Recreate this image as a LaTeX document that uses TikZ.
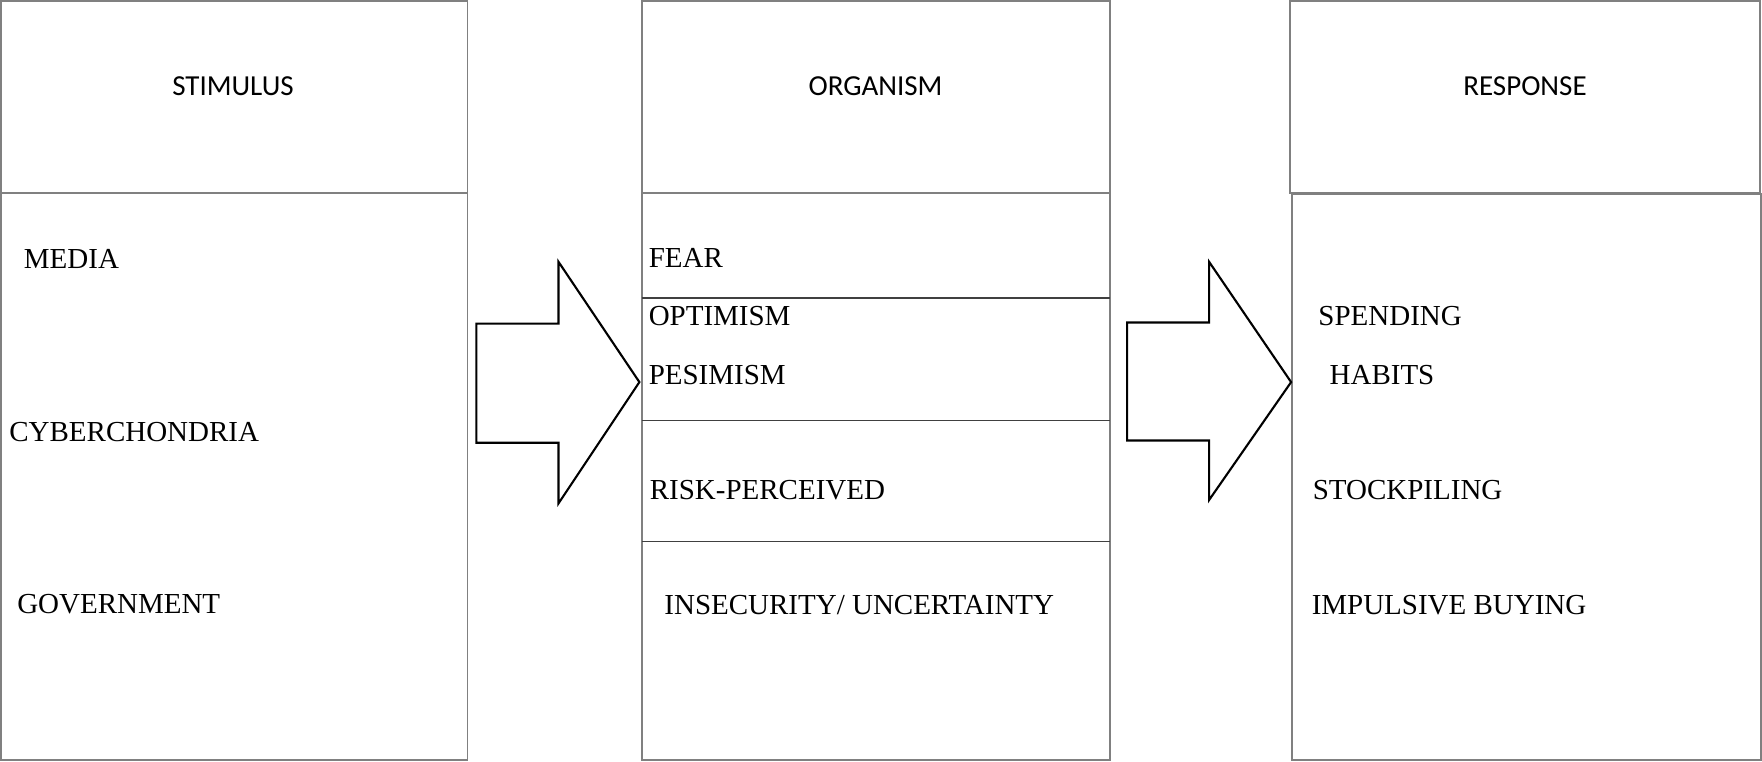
\documentclass[tikz,border=0pt]{standalone}
\usepackage{fontspec}
\setmainfont{Liberation Serif}
\newfontfamily\headfont{Carlito}
\usetikzlibrary{positioning}
\definecolor{framegray}{HTML}{808080}
\definecolor{rulegray}{HTML}{404040}
\tikzset{
    sorframe/.style={draw=framegray, line width=1.1pt},
    sorrule/.style={draw=rulegray, line width=0.8pt},
    sorhead/.style={inner sep=0pt, font=\headfont\fontsize{16.5}{20}\selectfont},
    soritem/.style={anchor=base west, inner sep=0pt, font=\fontsize{16.5}{20}\selectfont},
    sorarrow/.style={draw=black, line width=1.2pt, fill=white, line join=miter}
}

\begin{document}
\begin{tikzpicture}[x=0.02cm, y=-0.02cm]
    \useasboundingbox (0,0) rectangle (1762,761);

    % column frames
    \draw[sorframe] (1,1) rectangle (467.5,760);
    \draw[sorframe] (1,193.3) -- (467.5,193.3);
    \draw[sorframe] (641.6,1) rectangle (1110.2,760);
    \draw[sorframe] (641.6,193.3) -- (1110.2,193.3);
    \draw[sorframe] (1290,1) rectangle (1759.7,193.3);
    \draw[sorframe] (1292.3,194.4) rectangle (1761,760);

    % organism rows
    \draw[sorrule] (641.6,297.8) -- (1110.2,297.8);
    \draw[sorrule] (641.6,420.3) -- (1110.2,420.3);
    \draw[sorrule] (641.6,541.6) -- (1110.2,541.6);

    % headers
    \node[sorhead] (stim) at (233,86.5) {STIMULUS};
    \node[sorhead] (orgm) at (875.5,86.5) {ORGANISM};
    \node[sorhead] (resp) at (1525,86.5) {RESPONSE};

    % stimulus
    \node[soritem] (media) at (23.6,268) {MEDIA};
    \node[soritem] (cyber) at (9,441) {CYBERCHONDRIA};
    \node[soritem] (govt) at (16.9,613) {GOVERNMENT};

    % organism
    \node[soritem] (fear) at (648.4,267) {FEAR};
    \node[soritem] (optim) at (648.4,325.5) {OPTIMISM};
    \node[soritem] (pesim) at (648.4,384) {PESIMISM};
    \node[soritem] (risk) at (649.5,499.6) {RISK-PERCEIVED};
    \node[soritem] (insec) at (664.1,614.3) {INSECURITY/ UNCERTAINTY};

    % response
    \node[soritem] (spend) at (1318.1,325.5) {SPENDING};
    \node[soritem] (habit) at (1329.3,384) {HABITS};
    \node[soritem] (stock) at (1312.5,499.6) {STOCKPILING};
    \node[soritem] (impul) at (1311.4,614.3) {IMPULSIVE BUYING};

    % block arrows
    \coordinate (tipA) at (639.4,382.1);
    \coordinate (tipB) at (1291.1,382.1);
    \draw[sorarrow] (476.4,323.6) -- (558.5,323.6) -- (558.5,261.8) -- (tipA)
        -- (558.5,503.4) -- (558.5,442.7) -- (476.4,442.7) -- cycle;
    \draw[sorarrow] (1127.1,322.5) -- (1209.1,322.5) -- (1209.1,261.8) -- (tipB)
        -- (1209.1,500) -- (1209.1,440.5) -- (1127.1,440.5) -- cycle;
\end{tikzpicture}
\end{document}
